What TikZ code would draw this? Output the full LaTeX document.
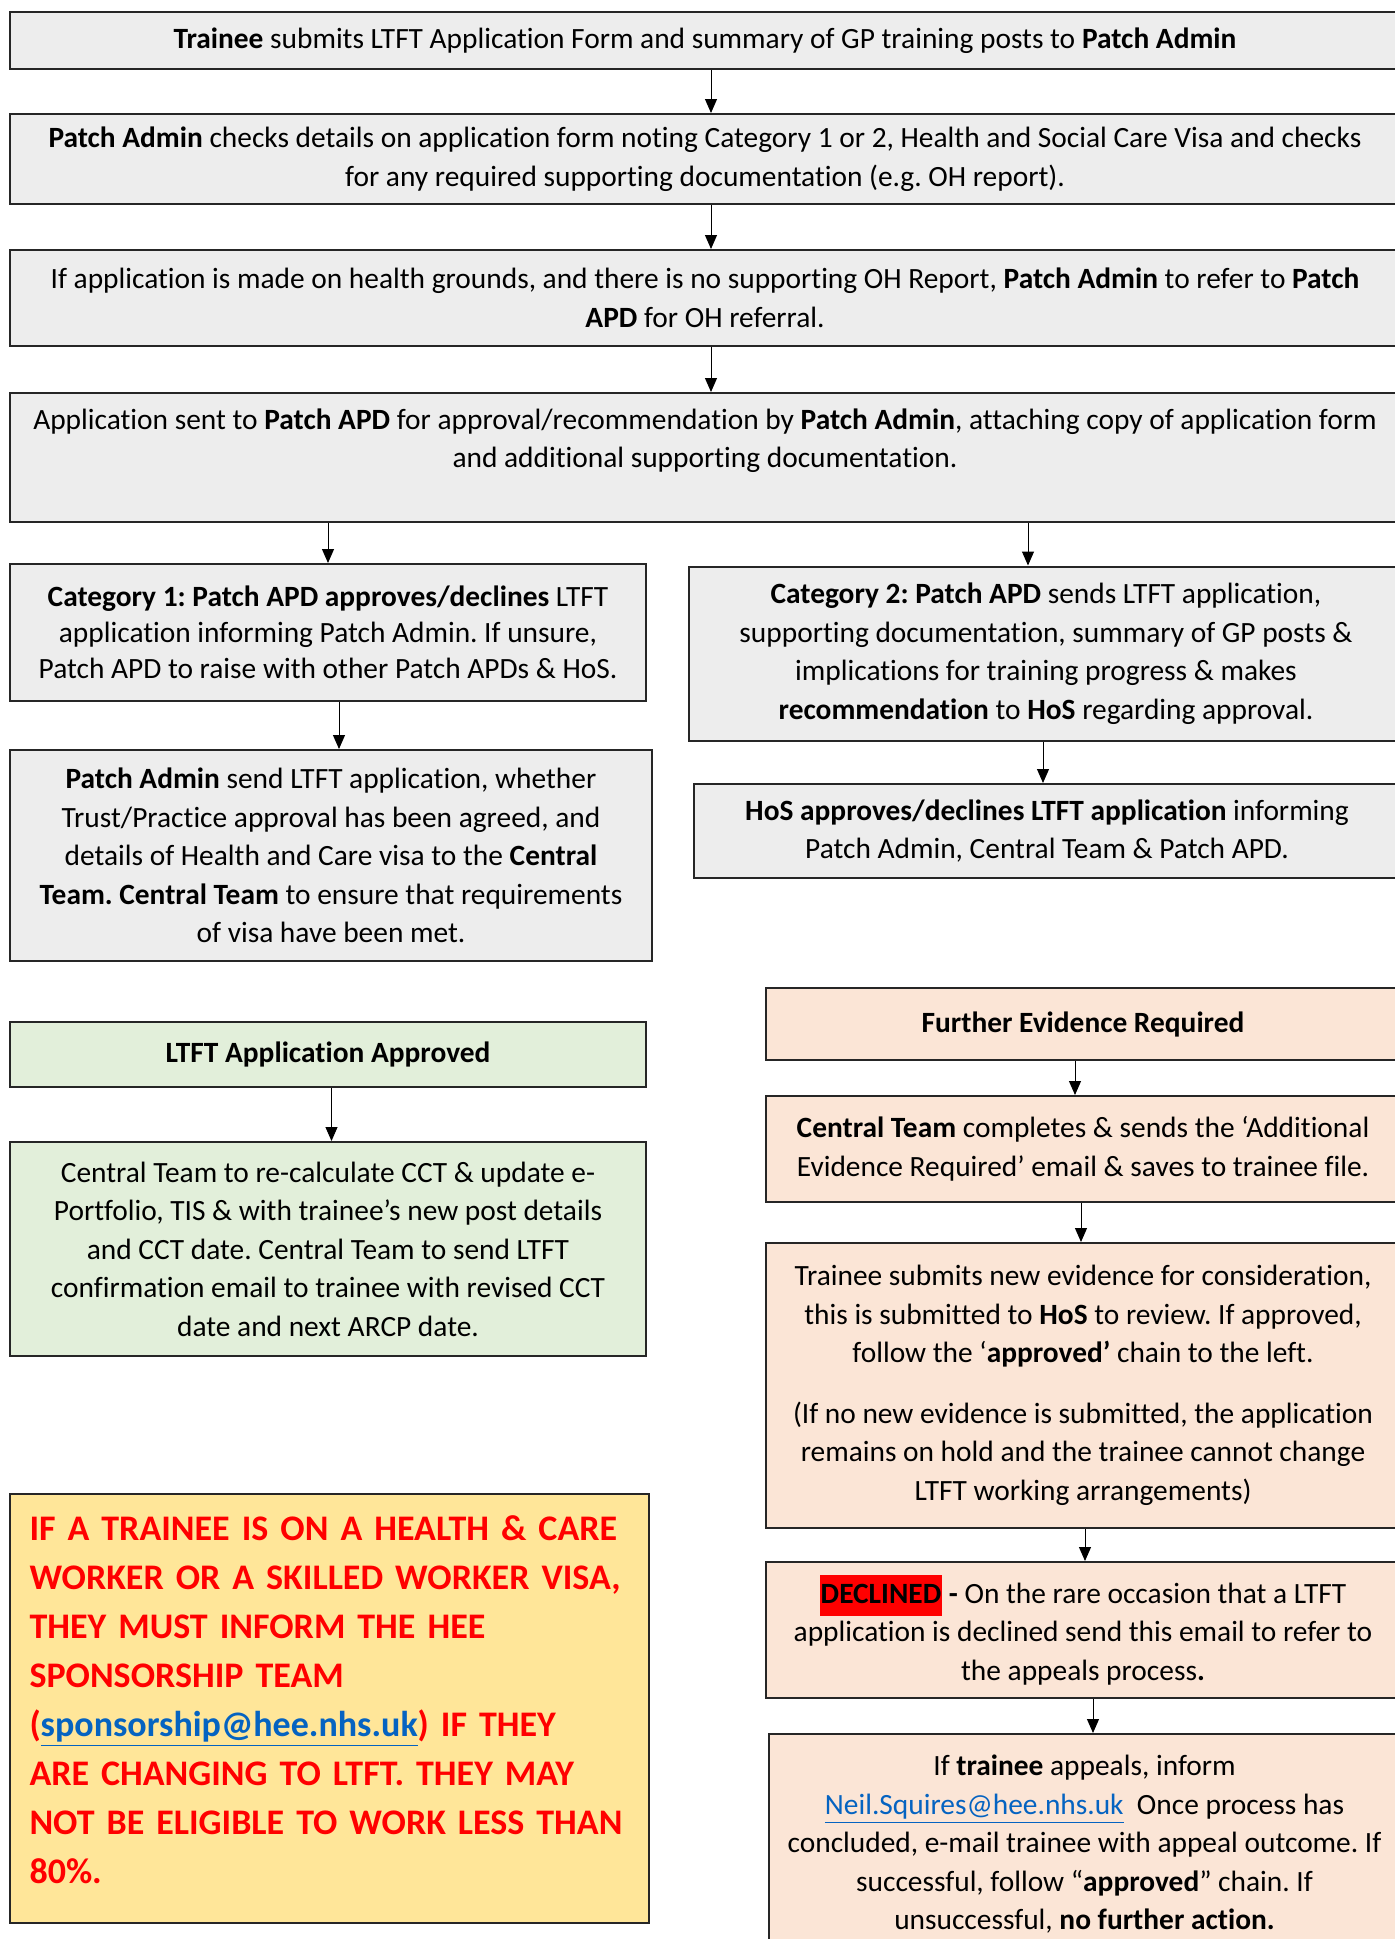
\documentclass[tikz,border=0pt]{standalone}
\usepackage{fontspec}
\setmainfont{Carlito}[Ligatures={NoCommon}]
\usetikzlibrary{arrows.meta}
\frenchspacing

\definecolor{boxgray}{HTML}{EDEDED}
\definecolor{boxgreen}{HTML}{E2EFDA}
\definecolor{boxpeach}{HTML}{FBE5D6}
\definecolor{boxyellow}{HTML}{FFE699}
\definecolor{linkblue}{HTML}{0563C1}
\newcommand{\maillink}[1]{\textcolor{linkblue}{\underline{#1}}}
\newcommand{\declinedmark}{{\setlength{\fboxsep}{0.5pt}\colorbox{red}{\strut\textbf{DECLINED}}}}

\tikzset{
  stepbox/.style={draw=black!85, line width=1pt, align=center, inner sep=0pt,
    font=\fontsize{14.7}{19.25}\selectfont},
  graybox/.style={stepbox, fill=boxgray},
  greenbox/.style={stepbox, fill=boxgreen},
  peachbox/.style={stepbox, fill=boxpeach},
  warnbox/.style={stepbox, fill=boxyellow, align=left, text width=300pt,
    text=red, font=\fontsize{18}{24.5}\selectfont\bfseries},
  arr/.style={-{Triangle[length=7pt,width=6pt]}, line width=0.5pt}
}

\begin{document}
\begin{tikzpicture}[x=0.5pt, y=-0.5pt]
    \useasboundingbox (0,0) rectangle (1394,1939);
    % main column
    \node[graybox, minimum width=695pt, minimum height=28.5pt] at (705,40.5) (b1) {\textbf{Trainee} submits LTFT Application Form and summary of GP training posts to \textbf{Patch Admin}};
    \node[graybox, minimum width=695pt, minimum height=45pt] at (705,159) (b2) {\textbf{Patch Admin} checks details on application form noting Category 1 or 2, Health and Social Care Visa and checks\\ for any required supporting documentation (e.g. OH report).};
    \node[graybox, minimum width=695pt, minimum height=48pt] at (705,298) (b3) {If application is made on health grounds, and there is no supporting OH Report, \textbf{Patch Admin} to refer to \textbf{Patch}\\ \textbf{APD} for OH referral.};
    \node[graybox, minimum width=695pt, minimum height=64.5pt] at (705,457.5) (b4) {Application sent to \textbf{Patch APD} for approval/recommendation by \textbf{Patch Admin}, attaching copy of application form\\ and additional supporting documentation.\\ \mbox{}};
    \draw[arr] ([xshift=3pt]b1.south) -- ([xshift=3pt]b1.south |- b2.north);
    \draw[arr] ([xshift=3pt]b2.south) -- ([xshift=3pt]b2.south |- b3.north);
    \draw[arr] ([xshift=3pt]b3.south) -- ([xshift=3pt]b3.south |- b4.north);
    % category 1
    \node[graybox, minimum width=318pt, minimum height=68.5pt, font=\fontsize{14.7}{18}\selectfont] at (328,632.5) (cat1) {\textbf{Category 1: Patch APD approves/declines} LTFT\\ application informing Patch Admin. If unsure,\\ Patch APD to raise with other Patch APDs \& HoS.};
    \node[graybox, minimum width=321pt, minimum height=105.5pt] at (331,855.5) (pa) {\textbf{Patch Admin} send LTFT application, whether\\ Trust/Practice approval has been agreed, and\\ details of Health and Care visa to the \textbf{Central}\\ \textbf{Team. Central Team} to ensure that requirements\\ of visa have been met.};
    \draw[arr] (b4.south -| cat1.north) -- (cat1.north);
    \draw[arr] ([xshift=5.5pt]cat1.south) -- ([xshift=5.5pt]cat1.south |- pa.north);
    % category 2
    \node[graybox, minimum width=357pt, minimum height=87.25pt] at (1046,653.75) (cat2) {\textbf{Category 2: Patch APD} sends LTFT application,\\ supporting documentation, summary of GP posts \&\\ implications for training progress \& makes\\ \textbf{recommendation} to \textbf{HoS} regarding approval.};
    \node[graybox, minimum width=353pt, minimum height=47pt] at (1047,831) (hos) {\textbf{HoS approves/declines LTFT application} informing\\ Patch Admin, Central Team \& Patch APD.};
    \draw[arr] ([xshift=-9pt]cat2.north |- b4.south) -- ([xshift=-9pt]cat2.north);
    \draw[arr] ([xshift=-1.5pt]cat2.south) -- ([xshift=-1.5pt]cat2.south |- hos.north);
    % approved chain
    \node[greenbox, minimum width=318pt, minimum height=32.5pt] at (328,1054.5) (appr) {\textbf{LTFT Application Approved}};
    \node[greenbox, minimum width=318pt, minimum height=107pt] at (328,1249) (ctp) {Central Team to re-calculate CCT \& update e-\\ Portfolio, TIS \& with trainee’s new post details\\ and CCT date. Central Team to send LTFT\\ confirmation email to trainee with revised CCT\\ date and next ARCP date.};
    \draw[arr] ([xshift=1.75pt]appr.south) -- ([xshift=1.75pt]appr.south |- ctp.north);
    % further evidence chain
    \node[peachbox, minimum width=317pt, minimum height=36pt] at (1083,1024) (fer) {\textbf{Further Evidence Required}};
    \node[peachbox, minimum width=317pt, minimum height=53pt] at (1083,1149) (ctc) {\textbf{Central Team} completes \& sends the ‘Additional\\ Evidence Required’ email \& saves to trainee file.};
    \node[peachbox, minimum width=317pt, minimum height=142.5pt] at (1083,1385.5) (tsn) {Trainee submits new evidence for consideration,\\ this is submitted to \textbf{HoS} to review. If approved,\\ follow the ‘\textbf{approved’} chain to the left.\\[11pt] (If no new evidence is submitted, the application\\ remains on hold and the trainee cannot change\\ LTFT working arrangements)};
    \node[peachbox, minimum width=317pt, minimum height=68pt] at (1083,1630) (dec) {\declinedmark\ \textbf{-} On the rare occasion that a LTFT\\ application is declined send this email to refer to\\ the appeals process\textbf{.}};
    \node[peachbox, minimum width=315.5pt, minimum height=110.5pt] at (1084.5,1844.5) (app) {If \textbf{trainee} appeals, inform\\ \maillink{Neil.Squires@hee.nhs.uk}\ \ Once process has\\ concluded, e-mail trainee with appeal outcome. If\\ successful, follow “\textbf{approved}” chain. If\\ unsuccessful, \textbf{no further action.}};
    \draw[arr] ([xshift=-4pt]fer.south) -- ([xshift=-4pt]fer.south |- ctc.north);
    \draw[arr] ([xshift=-1pt]ctc.south) -- ([xshift=-1pt]ctc.south |- tsn.north);
    \draw[arr] ([xshift=1pt]tsn.south) -- ([xshift=1pt]tsn.south |- dec.north);
    \draw[arr] ([xshift=5pt]dec.south) -- ([xshift=5pt]dec.south |- app.north);
    % visa warning
    \node[warnbox, minimum width=319.5pt, minimum height=214.5pt] at (329.5,1708.5) (yel) {IF A TRAINEE IS ON A HEALTH \& CARE\\ WORKER OR A SKILLED WORKER VISA,\\ THEY MUST INFORM THE HEE\\ SPONSORSHIP TEAM\\ (\maillink{sponsorship@hee.nhs.uk}) IF THEY\\ ARE CHANGING TO LTFT. THEY MAY\\ NOT BE ELIGIBLE TO WORK LESS THAN\\ 80\%.\\[-15.5pt] \mbox{}};
\end{tikzpicture}
\end{document}
